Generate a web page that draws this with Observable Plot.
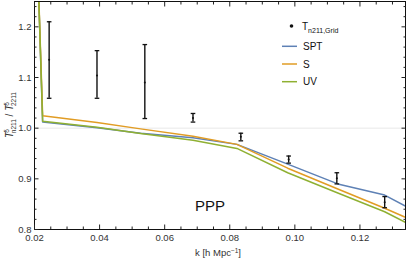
<!DOCTYPE html>
<html><head><meta charset="utf-8">
<script src="https://cdn.jsdelivr.net/npm/d3@7"></script>
<script src="https://cdn.jsdelivr.net/npm/@observablehq/plot@0.6"></script>
<style>body{margin:0;background:#fff}svg{display:block}</style>
</head><body><div id="chart"></div>
<script>
// Grid measurements (error bars)
const gridK = [0.0245, 0.0392, 0.0539, 0.0687, 0.0834, 0.0981, 0.1129, 0.1276];
const gridMid = [1.135, 1.104, 1.090, 1.020, 0.983, 0.938, 0.901, 0.854];
const gridLo = [1.059, 1.059, 1.019, 1.012, 0.975, 0.931, 0.890, 0.843];
const gridHi = [1.210, 1.153, 1.165, 1.029, 0.990, 0.945, 0.912, 0.865];
// Theory curves
const lineK = [0.0205, 0.0225, 0.0392, 0.0526, 0.0687, 0.0822, 0.0978, 0.1132, 0.1276, 0.134];
const sptVals = [1.42, 1.0124, 1.001, 0.990, 0.981, 0.968, 0.929, 0.890, 0.868, 0.846];
const sVals = [1.42, 1.0247, 1.011, 0.9986, 0.984, 0.968, 0.921, 0.880, 0.842, 0.824];
const uvVals = [1.42, 1.0137, 1.002, 0.9896, 0.976, 0.960, 0.912, 0.872, 0.835, 0.814];
const seriesNames = ["SPT", "S", "UV"];
const seriesColors = ["#5E81B5", "#E19C24", "#8FB032"];
// Axes
const xDomain = [0.02, 0.134];
const yDomain = [0.8, 1.25];
const xMajor = [0.02, 0.04, 0.06, 0.08, 0.10, 0.12];
const xMinor = [0.025, 0.03, 0.035, 0.045, 0.05, 0.055, 0.065, 0.07, 0.075, 0.085, 0.09, 0.095, 0.105, 0.11, 0.115, 0.125, 0.13];
const yMajor = [0.8, 0.9, 1.0, 1.1, 1.2];
const yMinor = [0.82, 0.84, 0.86, 0.88, 0.92, 0.94, 0.96, 0.98, 1.02, 1.04, 1.06, 1.08, 1.12, 1.14, 1.16, 1.18, 1.22, 1.24];
const refLine = [1];

const grid = gridK.map((k, i) => ({k, mid: gridMid[i], lo: gridLo[i], hi: gridHi[i]}));
const allVals = [sptVals, sVals, uvVals];
const curves = seriesNames.flatMap((name, s) => lineK.map((k, i) => ({k, v: allVals[s][i], name})));

const capSymbol = {draw(ctx, size) { const w = 2.3; ctx.moveTo(-w, 0); ctx.lineTo(w, 0); }};
const font = "Liberation Sans, Arial, sans-serif";
const tickColor = "#222";

const plot = Plot.plot({
  width: 407, height: 264,
  marginLeft: 34, marginRight: 2, marginTop: 1, marginBottom: 35,
  style: {fontFamily: font, fontSize: "9.5px", color: "#333", background: "#fff"},
  x: {domain: xDomain},
  y: {domain: yDomain},
  marks: [
    Plot.ruleY(refLine, {stroke: "#e8e8e8", strokeWidth: 1}),
    Plot.line(curves, {x: "k", y: "v", z: "name", stroke: d => seriesColors[seriesNames.indexOf(d.name)], strokeWidth: 1.5, clip: true}),
    Plot.ruleX(grid, {x: "k", y1: "lo", y2: "hi", stroke: "#111", strokeWidth: 1.4}),
    Plot.dot(grid, {x: "k", y: "lo", symbol: capSymbol, stroke: "#111", strokeWidth: 1.3, r: 3}),
    Plot.dot(grid, {x: "k", y: "hi", symbol: capSymbol, stroke: "#111", strokeWidth: 1.3, r: 3}),
    Plot.dot(grid, {x: "k", y: "mid", r: 1, fill: "#111"}),
    Plot.frame({stroke: "#111", strokeWidth: 1}),
    // labels
    Plot.axisX({ticks: xMajor, tickSize: 0, tickPadding: 5, tickFormat: d3.format(".2f"), label: null, fill: "#333"}),
    Plot.axisY({ticks: yMajor, tickSize: 0, tickPadding: 3, tickFormat: d3.format(".1f"), label: null, fill: "#333"}),
    // inward ticks
    Plot.axisX({ticks: xMajor, tickSize: -4.5, text: null, label: null, stroke: tickColor}),
    Plot.axisX({ticks: xMinor, tickSize: -2.5, text: null, label: null, stroke: tickColor}),
    Plot.axisX({anchor: "top", ticks: xMajor, tickSize: -4.5, text: null, label: null, stroke: tickColor}),
    Plot.axisX({anchor: "top", ticks: xMinor, tickSize: -2.5, text: null, label: null, stroke: tickColor}),
    Plot.axisY({ticks: yMajor, tickSize: -4.5, text: null, label: null, stroke: tickColor}),
    Plot.axisY({ticks: yMinor, tickSize: -2.5, text: null, label: null, stroke: tickColor}),
    Plot.axisY({anchor: "right", ticks: yMajor, tickSize: -4.5, text: null, label: null, stroke: tickColor}),
    Plot.axisY({anchor: "right", ticks: yMinor, tickSize: -2.5, text: null, label: null, stroke: tickColor})
  ]
});
document.getElementById("chart").appendChild(plot);

const svg = d3.select(plot);
// x axis title
const xt = svg.append("text").attr("x", 218).attr("y", 256).attr("text-anchor", "middle")
  .attr("font-family", font).attr("font-size", 9.5).attr("fill", "#333");
xt.append("tspan").text("k [h Mpc");
xt.append("tspan").attr("dy", -3.5).attr("font-size", 6.5).text("−1");
xt.append("tspan").attr("dy", 3.5).text("]");

// y axis title
const yt = svg.append("text").attr("transform", "translate(13,115) rotate(-90)").attr("text-anchor", "middle")
  .attr("font-family", font).attr("font-size", 10).attr("fill", "#333").attr("font-style", "italic");
yt.append("tspan").text("T");
yt.append("tspan").attr("dy", -4).attr("dx", -1).attr("font-size", 6.5).attr("font-style", "normal").text("δ");
yt.append("tspan").attr("dy", 7).attr("dx", -4).attr("font-size", 6.5).attr("font-style", "normal").text("n211");
yt.append("tspan").attr("dy", -3).attr("font-style", "normal").text(" / ");
yt.append("tspan").text("T");
yt.append("tspan").attr("dy", -4).attr("dx", -1).attr("font-size", 6.5).attr("font-style", "normal").text("δ");
yt.append("tspan").attr("dy", 7).attr("dx", -4).attr("font-size", 6.5).attr("font-style", "normal").text("2211");

// PPP label
svg.append("text").attr("x", 195).attr("y", 211).attr("text-anchor", "start").attr("font-family", font).attr("font-size", 15).attr("fill", "#111").text("PPP");

// Legend
const lg = svg.append("g").attr("font-family", font).attr("font-size", 10).attr("fill", "#111").attr("text-anchor", "start");
lg.append("circle").attr("cx", 291.5).attr("cy", 26).attr("r", 1.8).attr("fill", "#111");
const lt = lg.append("text").attr("x", 302).attr("y", 30);
lt.append("tspan").text("T");
lt.append("tspan").attr("dy", 2.5).attr("font-size", 7).text("n211,Grid");
seriesNames.forEach((name, i) => {
  const y = 46.3 + i * 17.7;
  lg.append("line").attr("x1", 282).attr("x2", 297).attr("y1", y).attr("y2", y).attr("stroke", seriesColors[i]).attr("stroke-width", 1.5);
  lg.append("text").attr("x", 303).attr("y", y + 3.5).text(name);
});
</script></body></html>
